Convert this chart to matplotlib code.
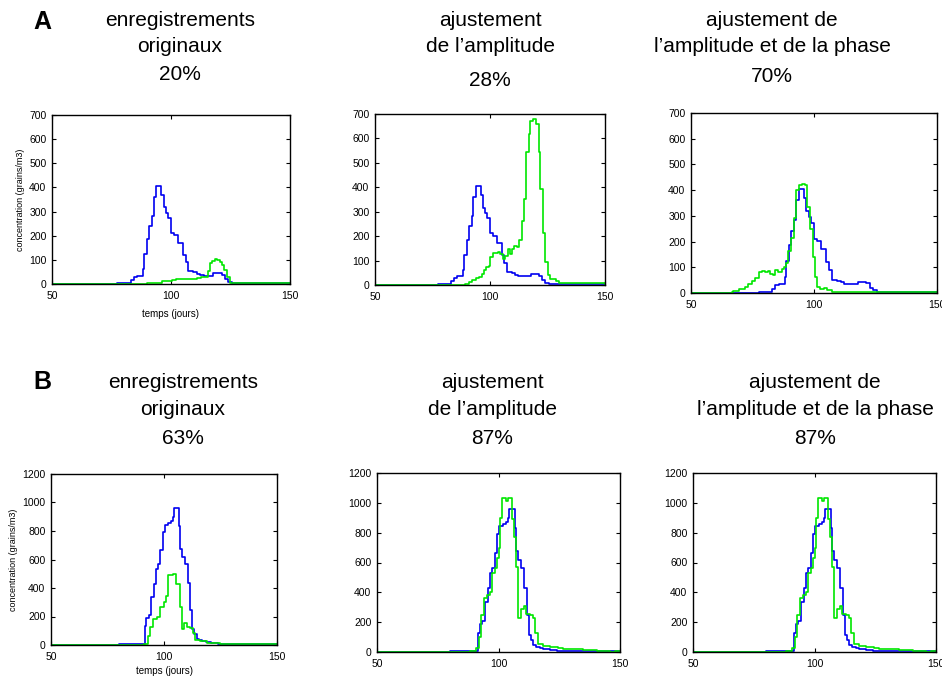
import matplotlib
matplotlib.use('Agg')
import matplotlib.pyplot as plt

plt.rcParams['font.family'] = ['Liberation Sans', 'DejaVu Sans']

# ---- donnees ----
# ligne A : courbe observee (bleu), commune aux trois panneaux
a_blue_days = [50, 77.5, 83, 84.3, 85.7, 88.2, 88.7, 89.9, 90.8, 92.0, 92.7, 93.9, 96.0, 96.9, 97.8,
               98.9, 100.1, 101.3, 103.0, 105.0, 106.1, 107.3, 109.4, 110.8, 112.2, 113.9, 117.8,
               121.3, 122.7, 124.1, 125.5, 150]
a_blue_vals = [0, 5, 15, 30, 35, 62, 124, 186, 241, 282, 361, 405, 369, 317, 296,
               273, 211, 201, 170, 121, 90, 52, 48, 41, 36, 35, 44,
               38, 20, 10, 5, 5]

# A1 : enregistrements originaux (vert)
a1_green_days = [50, 90.0, 96.4, 100.3, 102.0, 104.0, 106.0, 111.0, 112.5, 114.3, 115.7, 116.4,
                 117.4, 118.5, 119.5, 120.6, 121.6, 122.4, 123.4, 124.8, 150]
a1_green_vals = [0, 3, 12, 17, 22, 20, 22, 25, 28, 30, 55, 85,
                 95, 103, 100, 93, 80, 60, 30, 5, 5]

# A2 : ajustement de l'amplitude
a2_green_days = [50, 89.2, 90.7, 92.2, 93.9, 95.3, 96.5, 97.2, 98.3, 99.4, 100.1, 101.3, 102.5,
                 103.3, 104.5, 105.5, 106.7, 107.7, 108.6, 109.6, 110.6, 111.8, 112.8, 113.7,
                 114.7, 115.8, 116.9, 117.6, 118.8, 120.1, 121.1, 121.9, 122.9, 124.1, 125.1,
                 126.3, 128.5, 130.0, 134.3, 150]
a2_green_vals = [0, 3, 11, 20, 27, 33, 45, 60, 75, 79, 113, 133, 132,
                 136, 128, 108, 118, 146, 125, 148, 160, 155, 183, 260,
                 354, 545, 620, 670, 680, 658, 545, 395, 212, 95, 40,
                 25, 15, 10, 7, 5]

# A3 : ajustement de l'amplitude et de la phase
a3_green_days = [50, 66.6, 67.2, 69.7, 72.0, 73.3, 74.7, 76.0, 77.7, 79.0, 80.1, 81.2, 82.2, 83.2,
                 84.2, 85.5, 86.9, 87.9, 88.7, 89.6, 90.7, 91.7, 92.7, 94.1, 95.0, 96.4, 97.1,
                 98.4, 99.6, 100.3, 101.3, 102.5, 103.9, 105.2, 107.3, 109.3, 112, 150]
a3_green_vals = [0, 3, 8, 17, 23, 35, 47, 60, 80, 85, 82, 85, 75, 70,
                 90, 82, 95, 100, 115, 165, 215, 290, 400, 420, 425, 420, 335,
                 250, 140, 64, 25, 15, 20, 12, 5, 2, 5, 5]

# ligne B : courbe observee (bleu)
b_blue_days = [50, 80, 91.5, 92.2, 93.2, 94.4, 95.5, 96.4, 97.4, 98.4, 99.4, 100.4, 101.7, 103,
               103.8, 104.5, 106.6, 107.3, 108.1, 109.2, 110.6, 111.6, 112.5, 113.4, 114.4,
               115.6, 117, 118.5, 121, 124, 131, 150]
b_blue_vals = [0, 8, 130, 190, 210, 335, 430, 531, 565, 667, 790, 845, 855, 870,
               897, 962, 834, 677, 618, 565, 432, 247, 112, 80, 45,
               34, 27, 18, 14, 10, 5, 5]

# B1 : enregistrements originaux
b1_green_days = [50, 91, 92.9, 94, 95, 96.9, 98.4, 99.9, 100.9, 101.6, 104, 105.5, 106.9, 108,
                 108.7, 110.2, 111.4, 112.7, 113.9, 116.1, 119, 124.9, 139.7, 150]
b1_green_vals = [0, 5, 60, 125, 180, 195, 269, 304, 346, 491, 497, 426, 269, 112,
                 152, 124, 117, 82, 35, 28, 16, 9, 5, 5]

# B2 / B3 : ajustements (courbes identiques)
b2_green_days = [50, 88.2, 90.9, 91.9, 93.0, 94.1, 95.2, 96.4, 97.5, 98.6, 99.5, 100.0, 100.7,
                 101.5, 103.0, 104.0, 105.4, 106.5, 107.4, 108.2, 109.3, 110.4, 111.5, 112.9,
                 114.3, 115.2, 116.3, 118.4, 121.2, 124.6, 126.6, 134.9, 140.4, 145.9, 148, 150]
b2_green_vals = [0, 5, 25, 100, 250, 360, 380, 405, 530, 565, 630, 700, 897,
                 1030, 1015, 1030, 890, 770, 570, 225, 285, 310, 255, 245,
                 225, 130, 55, 40, 33, 27, 17, 12, 8, 3, 8, 8]

titles_a = [["enregistrements", "originaux", "20%"],
            ["ajustement", "de l\u2019amplitude", "28%"],
            ["ajustement de", "l\u2019amplitude et de la phase", "70%"]]
titles_b = [["enregistrements", "originaux", "63%"],
            ["ajustement", "de l\u2019amplitude", "87%"],
            ["ajustement de", "l\u2019amplitude et de la phase", "87%"]]

W, H = 942, 677
fig = plt.figure(figsize=(W / 100, H / 100), dpi=100)


def px_axes(x0, y0, x1, y1):
    # rectangle en pixels (origine en haut a gauche)
    return fig.add_axes([x0 / W, 1 - y1 / H, (x1 - x0) / W, (y1 - y0) / H])


def draw_panel(ax, blue, green, ymax, ystep, xlab_pad=None):
    ax.plot(blue[0], blue[1], drawstyle='steps-post', color='#0000f0', lw=1.2)
    ax.plot(green[0], green[1], drawstyle='steps-post', color='#00e600', lw=1.2)
    ax.set_xlim(50, 150)
    ax.set_ylim(0, ymax)
    ax.set_xticks([50, 100, 150])
    ax.set_yticks(range(0, ymax + 1, ystep))
    ax.tick_params(direction='in', top=True, right=True, length=3, width=0.8,
                   labelsize=7.5)
    ax.tick_params(axis='x', pad=5)
    ax.tick_params(axis='y', pad=4)
    for s in ax.spines.values():
        s.set_linewidth(1.0)
    if xlab_pad is not None:
        ax.set_ylabel('concentration (grains/m3)', fontsize=6.5, labelpad=3)
        ax.set_xlabel('temps (jours)', fontsize=7, labelpad=xlab_pad)


ax_a1 = px_axes(52, 115, 290, 284)
ax_a2 = px_axes(375, 114, 605, 285)
ax_a3 = px_axes(691, 113, 937, 293)
ax_b1 = px_axes(51, 474, 277, 645)
ax_b2 = px_axes(377, 473, 620, 652)
ax_b3 = px_axes(693, 473, 936, 652)

a_blue = (a_blue_days, a_blue_vals)
b_blue = (b_blue_days, b_blue_vals)
draw_panel(ax_a1, a_blue, (a1_green_days, a1_green_vals), 700, 100, xlab_pad=6)
draw_panel(ax_a2, a_blue, (a2_green_days, a2_green_vals), 700, 100)
draw_panel(ax_a3, a_blue, (a3_green_days, a3_green_vals), 700, 100)
draw_panel(ax_b1, b_blue, (b1_green_days, b1_green_vals), 1200, 200, xlab_pad=3)
draw_panel(ax_b2, b_blue, (b2_green_days, b2_green_vals), 1200, 200)
draw_panel(ax_b3, b_blue, (b2_green_days, b2_green_vals), 1200, 200)


def ftext(x, y, s, **kw):
    fig.text(x / W, 1 - y / H, s, ha='center', va='center', **kw)


# titres (positions en pixels)
title_fs = 15
a_cols = [(180, [20, 47, 75]), (490, [20, 47, 80]), (772, [20, 47, 77])]
b_cols = [(183, [382, 410, 438]), (492, [382, 410, 438]), (815, [382, 410, 438])]
for (cx, ys), lines in zip(a_cols, titles_a):
    for y, s in zip(ys, lines):
        ftext(cx, y, s, fontsize=title_fs)
for (cx, ys), lines in zip(b_cols, titles_b):
    for y, s in zip(ys, lines):
        ftext(cx, y, s, fontsize=title_fs)

ftext(42, 22, 'A', fontsize=18, fontweight='bold')
ftext(42, 382, 'B', fontsize=18, fontweight='bold')

fig.savefig('out.png', dpi=100)
